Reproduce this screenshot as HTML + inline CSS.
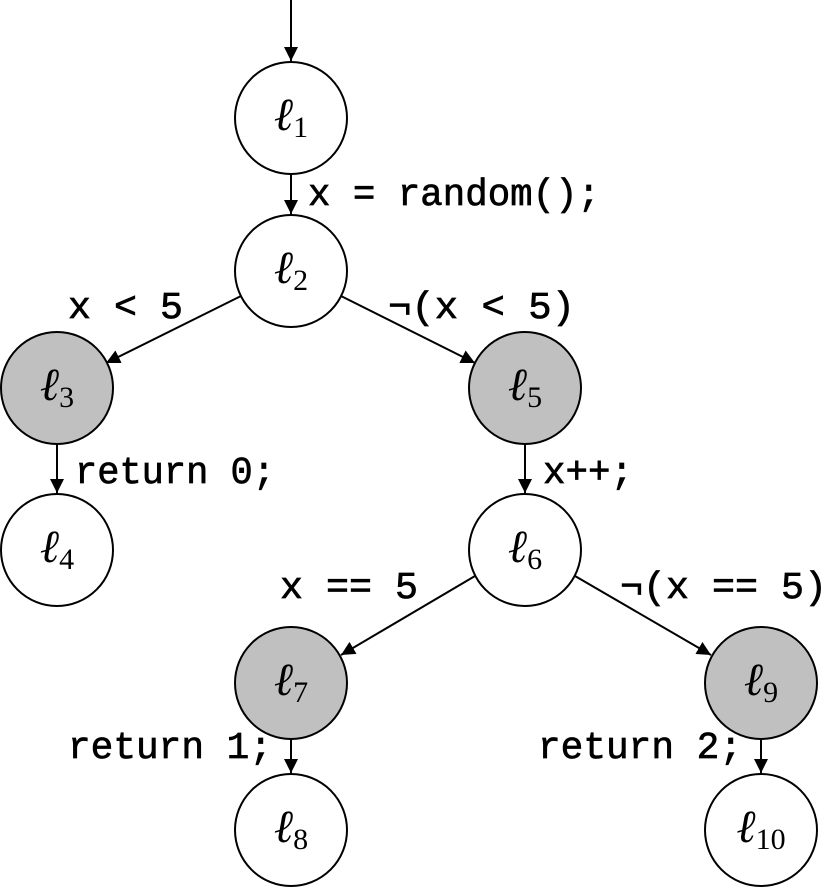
<!DOCTYPE html>
<html><head><meta charset="utf-8"><style>
html,body{margin:0;padding:0;background:#fff;}
svg{display:block}
.m{font-family:"Liberation Mono",monospace;font-size:38px;font-weight:normal;fill:#000;stroke:#000;stroke-width:0.7}
.l{font-family:"Liberation Serif",serif;font-style:italic;font-size:46px}
.s{font-family:"Liberation Serif",serif;font-size:30px;font-style:normal}
</style></head><body>
<svg width="828" height="889" viewBox="0 0 828 889" xmlns="http://www.w3.org/2000/svg">
<defs><marker id="a" viewBox="0 0 10 10" refX="10" refY="5" markerWidth="14" markerHeight="14" markerUnits="userSpaceOnUse" orient="auto"><path d="M0,0 L10,5 L0,10 z" fill="#000"/></marker></defs>
<g stroke="#000" stroke-width="2" fill="none" marker-end="url(#a)">
<line x1="291" y1="0" x2="291" y2="61"/>
<line x1="291" y1="174" x2="291" y2="214"/>
<line x1="241" y1="296" x2="106" y2="363"/>
<line x1="341" y1="296" x2="475" y2="363"/>
<line x1="57" y1="444" x2="57" y2="493"/>
<line x1="525" y1="444" x2="525" y2="493"/>
<line x1="475" y1="576" x2="341" y2="655"/>
<line x1="575" y1="576" x2="711" y2="655"/>
<line x1="291" y1="739" x2="291" y2="773"/>
<line x1="761" y1="739" x2="761" y2="773"/>
</g>
<g stroke="#000" stroke-width="2">
<circle cx="291" cy="118" r="56" fill="#fff"/>
<circle cx="291" cy="271" r="56" fill="#fff"/>
<circle cx="57" cy="388" r="56" fill="#c0c0c0"/>
<circle cx="525" cy="388" r="56" fill="#c0c0c0"/>
<circle cx="57" cy="550" r="56" fill="#fff"/>
<circle cx="525" cy="550" r="56" fill="#fff"/>
<circle cx="291" cy="683" r="56" fill="#c0c0c0"/>
<circle cx="761" cy="683" r="56" fill="#c0c0c0"/>
<circle cx="291" cy="830" r="56" fill="#fff"/>
<circle cx="761" cy="830" r="56" fill="#fff"/>
</g>
<g class="l" text-anchor="middle">
<text x="291" y="130">ℓ<tspan class="s" dy="7">1</tspan></text>
<text x="291" y="283">ℓ<tspan class="s" dy="7">2</tspan></text>
<text x="57" y="400">ℓ<tspan class="s" dy="7">3</tspan></text>
<text x="525" y="400">ℓ<tspan class="s" dy="7">5</tspan></text>
<text x="57" y="562">ℓ<tspan class="s" dy="7">4</tspan></text>
<text x="525" y="562">ℓ<tspan class="s" dy="7">6</tspan></text>
<text x="291" y="695">ℓ<tspan class="s" dy="7">7</tspan></text>
<text x="761" y="695">ℓ<tspan class="s" dy="7">9</tspan></text>
<text x="291" y="842">ℓ<tspan class="s" dy="7">8</tspan></text>
<text x="761" y="842">ℓ<tspan class="s" dy="7">10</tspan></text>
</g>
<g class="m">
<text x="308" y="205" textLength="292" lengthAdjust="spacingAndGlyphs">x = random();</text>
<text x="68" y="318" textLength="115" lengthAdjust="spacingAndGlyphs">x &lt; 5</text>
<text x="388" y="318" textLength="187" lengthAdjust="spacingAndGlyphs">¬(x &lt; 5)</text>
<text x="75" y="483" textLength="200" lengthAdjust="spacingAndGlyphs">return 0;</text>
<text x="543" y="483" textLength="90" lengthAdjust="spacingAndGlyphs">x++;</text>
<text x="280" y="598" textLength="138" lengthAdjust="spacingAndGlyphs">x == 5</text>
<text x="620" y="598" textLength="207" lengthAdjust="spacingAndGlyphs">¬(x == 5)</text>
<text x="68" y="758" textLength="204" lengthAdjust="spacingAndGlyphs">return 1;</text>
<text x="538" y="758" textLength="204" lengthAdjust="spacingAndGlyphs">return 2;</text>
</g>
</svg>
</body></html>
